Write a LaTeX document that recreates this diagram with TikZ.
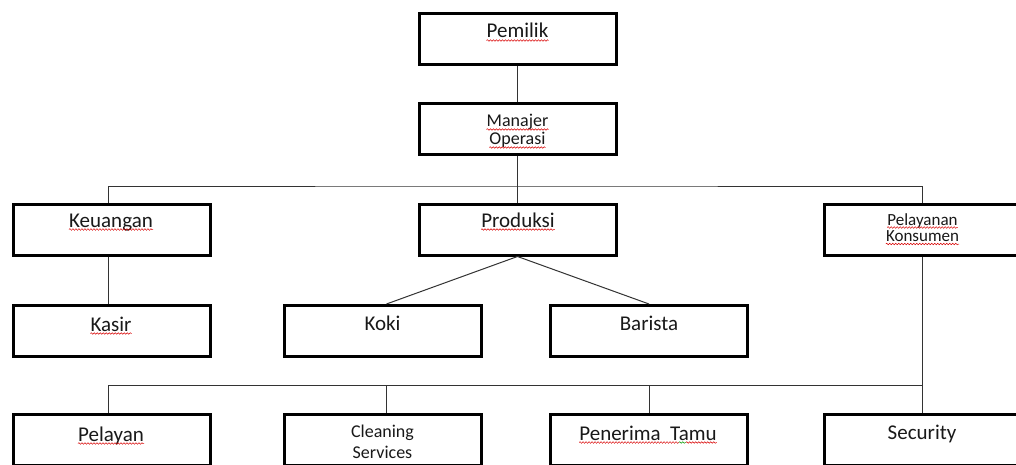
\documentclass[tikz,border=0pt]{standalone}
\usepackage{fontspec}
\setmainfont{Carlito}
\usetikzlibrary{decorations.pathmorphing}
\begin{document}
\begin{tikzpicture}[x=1pt,y=-1pt,
  box/.style={draw=black,line width=3pt,minimum width=197pt,minimum height=51pt,inner sep=0pt},
  conn/.style={draw=black!80,line width=1pt},
  lbl/.style={inner sep=0pt,anchor=base,text=black!90},
  big/.style={font=\fontsize{21}{25}\selectfont},
  mid/.style={font=\fontsize{18}{22}\selectfont},
  sml/.style={font=\fontsize{17}{20}\selectfont},
  sq/.style={draw=red!85!black,line width=0.5pt,decorate,decoration={snake,segment length=3pt,amplitude=0.8pt}},
  sqg/.style={draw=green!60!black,line width=0.5pt,decorate,decoration={snake,segment length=3pt,amplitude=0.8pt}}]
\clip (0,0) rectangle (1016,465);
\fill[white] (0,0) rectangle (1016,465);
% boxes
\node[box] (pemilik) at (517.5,39) {};
\node[box] (manajer) at (517.5,129) {};
\node[box] (keuangan) at (112,229.5) {};
\node[box] (produksi) at (517.5,229.5) {};
\node[box] (pk) at (922.5,229.5) {};
\node[box] (kasir) at (112,331) {};
\node[box] (koki) at (382.5,331) {};
\node[box] (barista) at (649,331) {};
\node[box] (pelayan) at (112,440) {};
\node[box] (cleaning) at (382.5,440) {};
\node[box] (penerima) at (649,440) {};
\node[box] (security) at (922.5,440) {};
% bus coordinates
\coordinate (bus1) at (517.5,186);
\coordinate (bus2) at (922.5,385);
% connectors
\draw[conn] (pemilik.south) -- (manajer.north);
\draw[conn] (manajer.south) -- (produksi.north);
\draw[conn] ([xshift=-4pt]keuangan.north) |- (bus1) -| (pk.north);
\draw[conn] ([xshift=-4pt]keuangan.south) -- ([xshift=-4pt]kasir.north);
\draw[conn] (produksi.south) -- ([xshift=4pt]koki.north);
\draw[conn] (produksi.south) -- (barista.north);
\draw[conn] (pk.south) -- (security.north);
\draw[conn] ([xshift=-4pt]pelayan.north) |- (bus2);
\draw[conn] ([xshift=4pt]cleaning.north) -- ([xshift=4pt]cleaning.north |- bus2);
\draw[conn] (penerima.north) -- (penerima.north |- bus2);
% labels
\node[lbl,big] (t1) at (517.5,38) {Pemilik};
\node[lbl,mid] (t2) at (517.5,127) {Manajer};
\node[lbl,mid] (t3) at (517.5,145) {Operasi};
\node[lbl,big] (t4) at (111,227) {Keuangan};
\node[lbl,big] (t5) at (518,227) {Produksi};
\node[lbl,sml] (t6) at (922.5,225) {Pelayanan};
\node[lbl,sml] (t7) at (922.5,241.5) {Konsumen};
\node[lbl,big] (t8) at (111,331) {Kasir};
\node[lbl,big] (t9) at (382.5,330) {Koki};
\node[lbl,big] (t10) at (649,330) {Barista};
\node[lbl,big] (t11) at (111,441) {Pelayan};
\node[lbl,mid] (t12) at (382.5,437.5) {Cleaning};
\node[lbl,mid] (t13) at (382.5,458) {Services};
\node[lbl,big] (t14) at (648,440) {Penerima\ \ Tamu};
\node[lbl,big] (t15) at (922,439) {Security};
% spell-check squiggles
\foreach \t in {t1,t2,t3,t4,t5,t6,t7,t8,t11}{
  \draw[sq] ([yshift=-2.5pt]\t.base west) -- ([yshift=-2.5pt]\t.base east);
}
\draw[sq] ([yshift=-2.5pt]t14.base west) -- ([yshift=-2.5pt,xshift=-38pt]t14.base east);
\draw[sqg] ([yshift=-2.5pt,xshift=-38pt]t14.base east) -- ([yshift=-2.5pt,xshift=-31pt]t14.base east);
\draw[sq] ([yshift=-2.5pt,xshift=-31pt]t14.base east) -- ([yshift=-2.5pt]t14.base east);
\end{tikzpicture}
\end{document}
